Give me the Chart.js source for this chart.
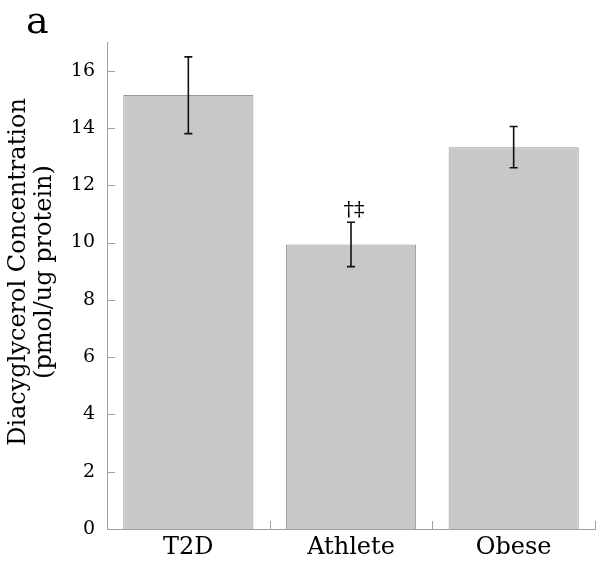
<!DOCTYPE html>
<html>
<head>
<meta charset="utf-8">
<script src="https://cdn.jsdelivr.net/npm/chart.js@4"></script>
<style>
html,body{margin:0;padding:0;background:#fff;}
#wrap{width:600px;height:566px;position:relative;}
</style>
</head>
<body>
<div id="wrap"><canvas id="c" width="600" height="566"></canvas></div>
<script>
const categories = ["T2D", "Athlete", "Obese"];
const means = [15.15, 9.93, 13.33];
const errLow = [13.8, 9.16, 12.61];
const errHigh = [16.48, 10.71, 14.05];
const annotations = ["", "†‡", ""];
const yTicks = [0, 2, 4, 6, 8, 10, 12, 14, 16];
const panelLabel = "a";
const yTitle = ["Diacyglycerol Concentration", "(pmol/ug protein)"];

const FONT = "'DejaVu Serif', 'Liberation Serif', serif";

const extras = {
  id: 'extras',
  afterDatasetsDraw(chart) {
    const ctx = chart.ctx;
    const x = chart.scales.x, y = chart.scales.y;
    const area = chart.chartArea;
    ctx.save();
    // axis ticks (inward)
    ctx.strokeStyle = '#a0a0a0';
    ctx.lineWidth = 1;
    yTicks.forEach(v => {
      const py = Math.round(y.getPixelForValue(v)) + 0.5;
      ctx.beginPath(); ctx.moveTo(area.left, py); ctx.lineTo(area.left + 8, py); ctx.stroke();
    });
    for (let i = 0; i <= categories.length; i++) {
      const px = Math.round(x.getPixelForValue(i - 0.5)) + 0.5;
      ctx.beginPath(); ctx.moveTo(px, area.bottom); ctx.lineTo(px, area.bottom - 8); ctx.stroke();
    }
    // error bars
    ctx.strokeStyle = '#111';
    ctx.lineWidth = 1.6;
    categories.forEach((c, i) => {
      const px = x.getPixelForValue(i);
      const yh = y.getPixelForValue(errHigh[i]);
      const yl = y.getPixelForValue(errLow[i]);
      ctx.beginPath();
      ctx.moveTo(px, yh); ctx.lineTo(px, yl);
      ctx.moveTo(px - 4, yh); ctx.lineTo(px + 4, yh);
      ctx.moveTo(px - 4, yl); ctx.lineTo(px + 4, yl);
      ctx.stroke();
      if (annotations[i]) {
        ctx.fillStyle = '#000';
        ctx.font = "21px " + FONT;
        ctx.textAlign = 'center';
        ctx.textBaseline = 'bottom';
        ctx.fillText(annotations[i], px + 3, yh - 1);
      }
    });
    // panel label
    ctx.fillStyle = '#000';
    ctx.font = "38px " + FONT;
    ctx.textAlign = 'left';
    ctx.textBaseline = 'alphabetic';
    ctx.fillText(panelLabel, 26, 33);
    // y axis title
    ctx.save();
    ctx.translate(0, 272);
    ctx.rotate(-Math.PI / 2);
    ctx.font = "24px " + FONT;
    ctx.textAlign = 'center';
    ctx.fillText(yTitle[0], 0, 25);
    ctx.fillText(yTitle[1], 0, 51);
    ctx.restore();
    ctx.restore();
  }
};

new Chart(document.getElementById('c'), {
  type: 'bar',
  data: {
    labels: categories,
    datasets: [{
      data: means,
      backgroundColor: '#c8c8c8',
      borderColor: '#9a9a9a',
      borderWidth: 1,
      categoryPercentage: 1.0,
      barPercentage: 0.8
    }]
  },
  options: {
    responsive: false,
    animation: false,
    devicePixelRatio: 1,
    layout: { padding: { left: 0, right: 5, top: 42, bottom: 0 } },
    plugins: { legend: { display: false }, tooltip: { enabled: false } },
    scales: {
      x: {
        grid: { display: false, drawTicks: false },
        border: { display: true, color: '#a0a0a0', width: 1 },
        ticks: { color: '#000', font: { family: FONT, size: 24 }, padding: 4 },
        afterFit(s) { s.height = 37; }
      },
      y: {
        min: 0, max: 17,
        grid: { display: false, drawTicks: false },
        border: { display: true, color: '#a0a0a0', width: 1 },
        afterBuildTicks(s) { s.ticks = yTicks.map(v => ({ value: v })); },
        ticks: { color: '#000', font: { family: FONT, size: 19 }, padding: 12 },
        title: { display: false },
        afterFit(s) { s.width = 107; }
      }
    }
  },
  plugins: [extras]
});
</script>
</body>
</html>
